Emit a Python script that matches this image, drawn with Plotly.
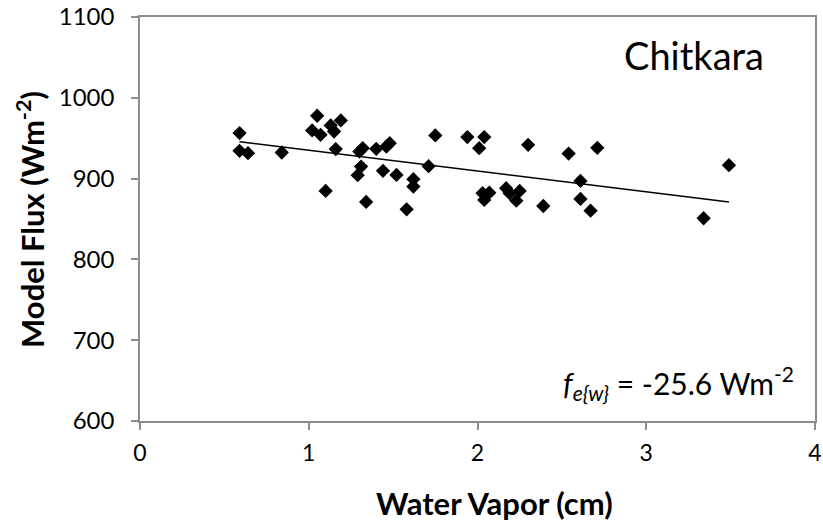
import numpy as np
import plotly.graph_objects as go

water_vapor = [0.59, 0.59, 0.64, 0.84, 1.05, 1.02, 1.07, 1.13, 1.15, 1.19,
               1.16, 1.30, 1.32, 1.31, 1.29, 1.10, 1.34, 1.40, 1.46, 1.48,
               1.44, 1.52, 1.75, 1.62, 1.62, 1.58, 1.71, 1.94, 2.04, 2.01,
               2.03, 2.07, 2.04, 2.17, 2.19, 2.23, 2.25, 2.30, 2.39, 2.54,
               2.61, 2.61, 2.67, 2.71, 3.49, 3.34]
model_flux = [956.3, 934.4, 931.5, 932.3, 977.8, 959.6, 954.2, 965.8, 958.3, 972.0,
              936.5, 933.5, 937.7, 914.9, 904.2, 884.7, 871.1, 936.8, 939.7, 943.9,
              909.6, 904.6, 953.4, 899.3, 890.1, 862.0, 915.4, 951.4, 951.4, 937.7,
              881.9, 882.6, 873.6, 888.1, 881.9, 872.7, 884.7, 941.8, 866.1, 931.0,
              897.1, 874.8, 860.3, 938.1, 916.6, 850.9]

x_ticks = [0, 1, 2, 3, 4]
y_ticks = [600, 700, 800, 900, 1000, 1100]

x_title = "<b>Water Vapor (cm)</b>"
y_title = "<b>Model Flux (Wm<sup>-2</sup>)</b>"
site_label = "Chitkara"
fit_label = "<i>f</i><sub><i>e{w}</i></sub> = -25.6 Wm<sup>-2</sup>"

# linear trendline (least-squares)
slope, intercept = np.polyfit(water_vapor, model_flux, 1)
tx = np.array([min(water_vapor), max(water_vapor)])
ty = slope * tx + intercept

FONT = "Lato"
GREY = "#8c8c8c"

fig = go.Figure()
fig.add_trace(go.Scatter(
    x=tx, y=ty, mode="lines",
    line=dict(color="black", width=1.5),
    hoverinfo="skip", showlegend=False))
fig.add_trace(go.Scatter(
    x=water_vapor, y=model_flux, mode="markers",
    marker=dict(symbol="diamond", size=11, color="black"),
    showlegend=False))

fig.update_layout(
    width=823, height=529,
    margin=dict(l=140, r=8, t=17, b=108),
    paper_bgcolor="white", plot_bgcolor="white",
    font=dict(family=FONT, color="black", size=22),
    showlegend=False,
)
axis_common = dict(
    showgrid=False, zeroline=False, automargin=False,
    showline=True, linecolor=GREY, linewidth=1.5, mirror=True,
    ticks="outside", ticklen=7, tickcolor=GREY, tickwidth=1.5,
)
fig.update_xaxes(range=[0, 4], tickvals=x_ticks,
                 ticktext=[str(v) for v in x_ticks], ticklabelstandoff=4,
                 tickfont=dict(family=FONT, size=23, color="black"),
                 **axis_common)
fig.update_yaxes(range=[600, 1100], tickvals=y_ticks,
                 ticktext=[str(v) for v in y_ticks], ticklabelstandoff=12,
                 tickfont=dict(family=FONT, size=24, color="black"),
                 **axis_common)

fig.add_annotation(
    x=0.525, y=-0.203, xref="paper", yref="paper", xanchor="center", yanchor="middle",
    text=x_title, showarrow=False, font=dict(family=FONT, size=31, color="black"))
fig.add_annotation(
    x=-0.163, y=0.5, xref="paper", yref="paper", xanchor="center", yanchor="middle",
    text=y_title, textangle=-90, showarrow=False,
    font=dict(family=FONT, size=31, color="black"))
fig.add_annotation(
    x=0.9275, y=0.906, xref="paper", yref="paper", xanchor="right", yanchor="middle",
    text=site_label, showarrow=False, font=dict(family=FONT, size=38, color="black"))
fig.add_annotation(
    x=0.972, y=0.094, xref="paper", yref="paper", xanchor="right", yanchor="middle",
    text=fit_label, showarrow=False, font=dict(family=FONT, size=30, color="black"))

fig.write_html(
    "out.html",
    config={"displayModeBar": False},
    post_script="document.body.style.margin='0';document.body.style.padding='0';",
)
